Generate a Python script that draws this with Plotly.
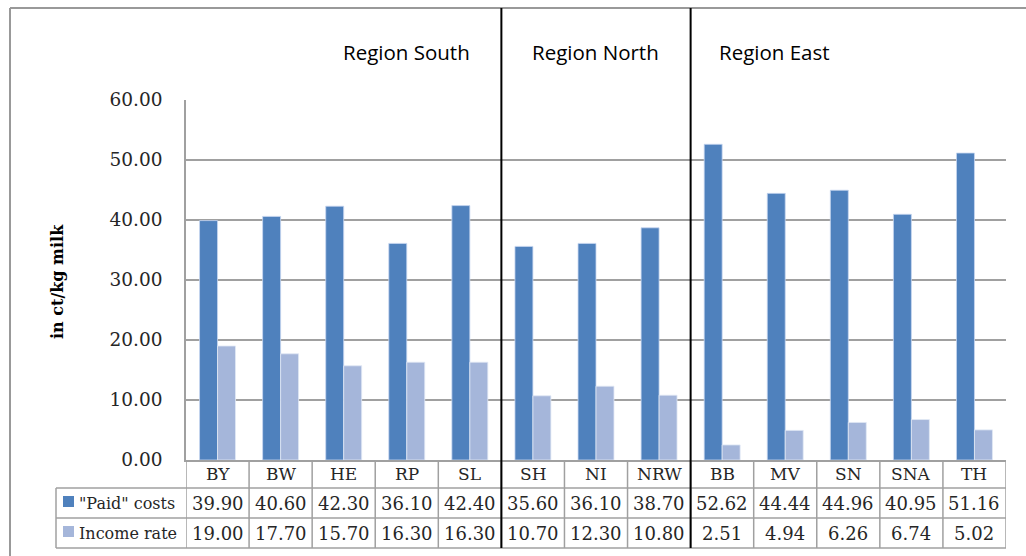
import plotly.graph_objects as go

categories = ["BY", "BW", "HE", "RP", "SL", "SH", "NI", "NRW", "BB", "MV", "SN", "SNA", "TH"]
paid_costs = [39.90, 40.60, 42.30, 36.10, 42.40, 35.60, 36.10, 38.70, 52.62, 44.44, 44.96, 40.95, 51.16]
income_rate = [19.00, 17.70, 15.70, 16.30, 16.30, 10.70, 12.30, 10.80, 2.51, 4.94, 6.26, 6.74, 5.02]
series_names = ['"Paid" costs', "Income rate"]
regions = ["Region South", "Region North", "Region East"]
region_sizes = [5, 3, 5]
y_ticks = [0, 10, 20, 30, 40, 50, 60]

W, H = 1026, 556
L, R, T, B = 186, 20, 100, 96
PW, PH = W - L - R, H - T - B

def px(x):
    return (x - L) / PW

def py(y):
    return (H - B - y) / PH

DARK = "#4F81BD"
LIGHT = "#A5B6DA"
GRID = "#A0A0A0"
SERIF = "DejaVu Serif"
TXT = "#262626"

fig = go.Figure()
fig.add_trace(go.Bar(x=categories, y=paid_costs, name=series_names[0],
                     marker=dict(color=DARK, line=dict(color="rgba(200,215,240,0.8)", width=1))))
fig.add_trace(go.Bar(x=categories, y=income_rate, name=series_names[1],
                     marker=dict(color=LIGHT, line=dict(color="rgba(225,232,245,0.8)", width=1))))

shapes = []
annotations = []

# outer border (top & left, extends off-canvas)
shapes.append(dict(type="line", xref="paper", yref="paper", x0=px(10), x1=px(1040), y0=py(8), y1=py(8),
                   line=dict(color="#999999", width=2)))
shapes.append(dict(type="line", xref="paper", yref="paper", x0=px(10), x1=px(10), y0=py(8), y1=py(570),
                   line=dict(color="#999999", width=2)))

n = len(categories)
row_y = [460, 488, 518, 548]
# table horizontal lines
for yy in row_y[1:]:
    shapes.append(dict(type="line", xref="paper", yref="paper", x0=px(56), x1=1, y0=py(yy), y1=py(yy),
                       line=dict(color=GRID, width=1.5)))
# table vertical lines at category boundaries
for i in range(n + 1):
    shapes.append(dict(type="line", xref="x", yref="paper", x0=i - 0.5, x1=i - 0.5, y0=py(460), y1=py(548),
                       line=dict(color=GRID, width=1.5)))
shapes.append(dict(type="line", xref="paper", yref="paper", x0=px(56), x1=px(56), y0=py(488), y1=py(548),
                   line=dict(color=GRID, width=1.5)))

# region separators
b = 0
for s in region_sizes[:-1]:
    b += s
    shapes.append(dict(type="line", xref="x", yref="paper", x0=b - 0.5, x1=b - 0.5, y0=py(8), y1=py(548),
                       line=dict(color="black", width=2)))

# region labels
region_x = [406, 595, 774]
for name, rx in zip(regions, region_x):
    annotations.append(dict(text=name, xref="paper", yref="paper", x=px(rx), y=py(52), showarrow=False,
                            xanchor="center", yanchor="middle",
                            font=dict(family="Open Sans", size=20.5, color="black")))

# table text
for i, c in enumerate(categories):
    annotations.append(dict(text=c, xref="x", yref="paper", x=i, y=py(474), showarrow=False,
                            xanchor="center", yanchor="middle", font=dict(family=SERIF, size=17, color=TXT)))
    annotations.append(dict(text=f"{paid_costs[i]:.2f}", xref="x", yref="paper", x=i, y=py(503), showarrow=False,
                            xanchor="center", yanchor="middle", font=dict(family=SERIF, size=18, color=TXT)))
    annotations.append(dict(text=f"{income_rate[i]:.2f}", xref="x", yref="paper", x=i, y=py(533), showarrow=False,
                            xanchor="center", yanchor="middle", font=dict(family=SERIF, size=18, color=TXT)))

# legend keys in table
for name, col, cy in [(series_names[0], DARK, 503), (series_names[1], LIGHT, 533)]:
    shapes.append(dict(type="rect", xref="paper", yref="paper", x0=px(63), x1=px(74), y0=py(cy - 7), y1=py(cy + 4),
                       fillcolor=col, line=dict(width=0)))
    annotations.append(dict(text=name, xref="paper", yref="paper", x=px(77), y=py(cy), showarrow=False,
                            xanchor="left", yanchor="middle", font=dict(family=SERIF, size=16, color=TXT)))

# y-axis title
annotations.append(dict(text="<b>in ct/kg milk</b>", xref="paper", yref="paper", x=px(57), y=py(282),
                        showarrow=False, textangle=-90, xanchor="center", yanchor="middle",
                        font=dict(family=SERIF, size=16, color="black")))

fig.update_layout(
    width=W, height=H,
    margin=dict(l=L, r=R, t=T, b=B, pad=0),
    paper_bgcolor="white", plot_bgcolor="white",
    barmode="group", bargap=0.43, bargroupgap=0,
    showlegend=False,
    shapes=shapes, annotations=annotations,
    xaxis=dict(range=[-0.5, n - 0.5], showticklabels=False, ticks="", showgrid=False,
               showline=True, linecolor=GRID, linewidth=1.5, fixedrange=True),
    yaxis=dict(range=[0, 60], tickvals=y_ticks, tickformat=".2f", showgrid=True, gridcolor=GRID, gridwidth=1.5,
               zeroline=False, showline=True, linecolor=GRID, linewidth=1.5, ticks="",
               ticklabelstandoff=18, tickfont=dict(family=SERIF, size=18.5, color=TXT)),
)

fig.write_html("out.html")
